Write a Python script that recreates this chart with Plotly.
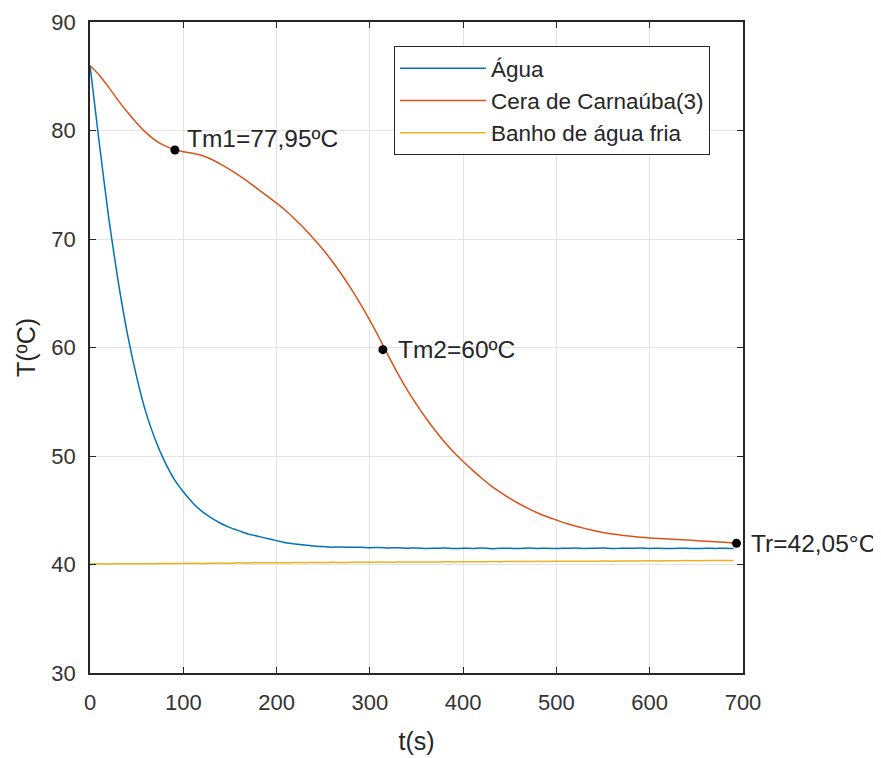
import plotly.graph_objects as go

# time axis (s)
t = [0, 10, 20, 30, 40, 50, 60, 70, 80, 90, 100, 110, 120, 130, 140, 150, 160, 170, 180, 190,
     200, 210, 220, 230, 240, 250, 260, 270, 280, 290, 300, 310, 320, 330, 340, 350, 360, 370, 380, 390,
     400, 410, 420, 430, 440, 450, 460, 470, 480, 490, 500, 510, 520, 530, 540, 550, 560, 570, 580, 590,
     600, 610, 620, 630, 640, 650, 660, 670, 680, 690]

agua = [86.0, 78.8, 72.0, 66.2, 61.3, 57.3, 54.0, 51.5, 49.5, 47.9, 46.7, 45.7, 44.9, 44.3, 43.8, 43.4,
        43.1, 42.8, 42.6, 42.4, 42.2, 42.0, 41.9, 41.8, 41.7, 41.65, 41.6, 41.62, 41.58, 41.6, 41.55, 41.57,
        41.52, 41.55, 41.5, 41.53, 41.48, 41.5, 41.52, 41.47, 41.5, 41.48, 41.52, 41.46, 41.5, 41.49, 41.47,
        41.52, 41.48, 41.5, 41.47, 41.5, 41.53, 41.48, 41.5, 41.52, 41.47, 41.5, 41.49, 41.52, 41.48, 41.5,
        41.47, 41.5, 41.49, 41.47, 41.5, 41.48, 41.5, 41.47]

cera = [86.0, 85.1, 84.0, 82.8, 81.7, 80.7, 79.8, 79.1, 78.6, 78.25, 78.05, 77.9, 77.7, 77.35, 76.9,
        76.4, 75.85, 75.25, 74.6, 73.95, 73.3, 72.6, 71.8, 70.95, 70.0, 69.0, 67.9, 66.7, 65.4, 64.0,
        62.5, 60.9, 59.2, 57.6, 56.1, 54.75, 53.5, 52.35, 51.3, 50.35, 49.5, 48.7, 47.95, 47.25, 46.65,
        46.1, 45.6, 45.15, 44.75, 44.4, 44.1, 43.8, 43.55, 43.33, 43.13, 42.95, 42.82, 42.7, 42.6, 42.52,
        42.45, 42.4, 42.35, 42.3, 42.25, 42.2, 42.15, 42.1, 42.05, 41.98]

banho = [40.05, 40.06, 40.05, 40.07, 40.06, 40.08, 40.07, 40.08, 40.1, 40.09, 40.1, 40.11, 40.1, 40.12,
         40.13, 40.12, 40.15, 40.14, 40.16, 40.15, 40.17, 40.16, 40.18, 40.17, 40.19, 40.18, 40.2, 40.19,
         40.2, 40.21, 40.2, 40.22, 40.21, 40.22, 40.23, 40.22, 40.24, 40.23, 40.25, 40.24, 40.25, 40.26,
         40.25, 40.27, 40.26, 40.28, 40.27, 40.28, 40.29, 40.28, 40.3, 40.29, 40.3, 40.31, 40.3, 40.32,
         40.31, 40.33, 40.32, 40.33, 40.34, 40.33, 40.35, 40.34, 40.36, 40.35, 40.36, 40.37, 40.36, 40.38]

# marked points
pt_t = [91, 314, 693]
pt_T = [78.2, 59.8, 41.95]
pt_labels = ["Tm1=77,95ºC", "Tm2=60ºC", "Tr=42,05°C"]
pt_xshift = [10, 13, 13]
pt_yshift = [12, 0, 0]

series_names = ["Água", "Cera de Carnaúba(3)", "Banho de água fria"]
colors = ["#0072BD", "#D95319", "#EDB120"]

xticks = [0, 100, 200, 300, 400, 500, 600, 700]
yticks = [30, 40, 50, 60, 70, 80, 90]

FONT = "Arial, Liberation Sans, sans-serif"
AX = "#262626"

fig = go.Figure()
for name, ys, c in zip(series_names, [agua, cera, banho], colors):
    fig.add_trace(go.Scatter(x=t, y=ys, mode="lines", name=name,
                             line=dict(color=c, width=1.5, shape="spline", smoothing=0.6)))

fig.add_trace(go.Scatter(x=pt_t, y=pt_T, mode="markers", showlegend=False,
                         marker=dict(color="black", size=9)))

for xt, yt, lab, xs, ys in zip(pt_t, pt_T, pt_labels, pt_xshift, pt_yshift):
    fig.add_annotation(x=xt, y=yt, text=lab, showarrow=False, xanchor="left", yanchor="middle",
                       xshift=xs, yshift=ys, font=dict(family=FONT, size=24.5, color=AX))

axis_common = dict(showline=True, linecolor=AX, linewidth=1.5, mirror="ticks",
                   ticks="inside", ticklen=6, tickcolor=AX, tickwidth=1,
                   showgrid=True, gridcolor="#e3e3e3", gridwidth=1, zeroline=False,
                   automargin=False,
                   tickfont=dict(family=FONT, size=22, color="#333333"))

fig.update_xaxes(range=[0, 700], tickvals=xticks,
                 title=dict(text="t(s)", font=dict(family=FONT, size=25, color=AX), standoff=18),
                 ticklabelstandoff=9, **axis_common)
fig.update_yaxes(range=[30, 90], tickvals=yticks,
                 title=dict(text="T(ºC)", font=dict(family=FONT, size=25, color=AX), standoff=9),
                 ticklabelstandoff=8, **axis_common)

fig.update_layout(
    width=881, height=758,
    margin=dict(l=82, r=146, t=14, b=93, autoexpand=False),
    paper_bgcolor="white", plot_bgcolor="white",
    showlegend=True,
    legend=dict(x=0.4655, y=0.963, xanchor="left", yanchor="top",
                bgcolor="white", bordercolor=AX, borderwidth=1,
                font=dict(family=FONT, size=22.5, color=AX), itemwidth=86,
                tracegroupgap=0),
    font=dict(family=FONT, color=AX),
)

fig.write_html("out.html")
